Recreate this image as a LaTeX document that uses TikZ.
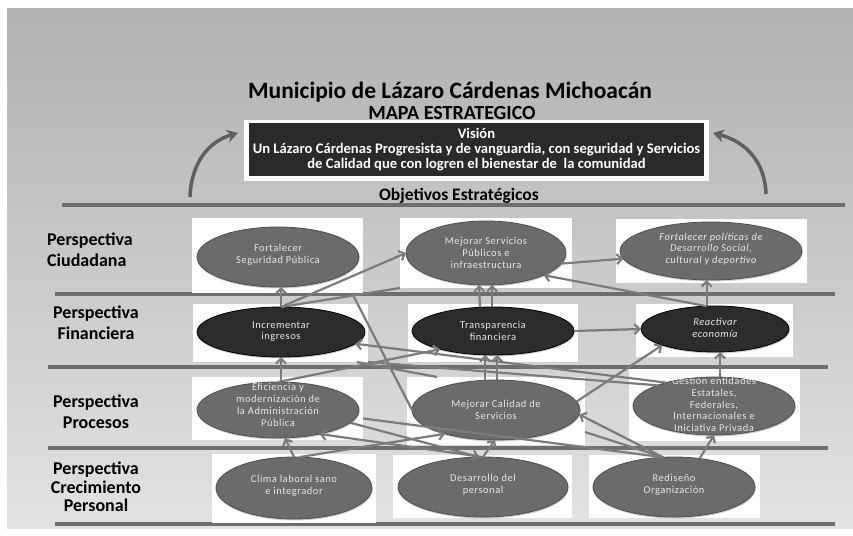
\documentclass[tikz,border=0pt]{standalone}
\usepackage{fontspec}
\setmainfont{Carlito}
\newfontfamily\ellfont[LetterSpace=5]{Carlito}
\usetikzlibrary{arrows.meta,calc,shadows,shapes.geometric}
\definecolor{bgtop}{HTML}{B1B1B1}
\definecolor{bgbot}{HTML}{E2E2E2}
\definecolor{sepcol}{HTML}{6E6E6E}
\definecolor{conncol}{HTML}{7B7B7B}
\definecolor{curvcol}{HTML}{606060}
\definecolor{objgray}{HTML}{6B6B6B}
\definecolor{objrim}{HTML}{4E4E4E}
\definecolor{objdark}{HTML}{2C2C2C}
\definecolor{objtext}{HTML}{E6E6E6}
\definecolor{visfill}{HTML}{2A2A2A}
\begin{document}
\begin{tikzpicture}[x=1pt,y=-1pt,
  wbox/.style={fill=white,draw=none,inner sep=0pt,outer sep=0pt},
  obj/.style={ellipse,fill=objgray,draw=objrim,line width=0.8pt,inner sep=0pt,outer sep=0pt,
    drop shadow={opacity=0.35,shadow xshift=0.5pt,shadow yshift=-1.5pt}},
  objd/.style={obj,fill=objdark,draw=black},
  objtxt/.style={inner sep=0pt,text=objtext,align=center,font=\ellfont\fontsize{10.5}{11.8}\selectfont},
  conn/.style={draw=conncol,line width=2.2pt,-{Straight Barb[length=5pt,width=10pt]}},
  plainline/.style={draw=conncol,line width=2.2pt},
  sepline/.style={draw=sepcol,line width=3.5pt},
  curv/.style={draw=curvcol,line width=3.5pt,-{Stealth[length=11pt,width=13pt]}},
  persp/.style={align=center,font=\bfseries\fontsize{18}{21}\selectfont,inner sep=0pt}
]
\useasboundingbox (0,0) rectangle (853,535);
\fill[white] (0,0) rectangle (853,535);
\shade[top color=bgtop,bottom color=bgbot] (7,9) rectangle (853,528);

% titles
\node[font=\bfseries\fontsize{23.5}{28}\selectfont] (title) at (450,92) {Municipio de Lázaro Cárdenas Michoacán};
\node[font=\bfseries\fontsize{20}{24}\selectfont] (mapa) at (452,113) {MAPA ESTRATEGICO};

% vision
\node[wbox,minimum width=465,minimum height=61] (vframe) at (476.5,150) {};
\node[fill=visfill,draw=none,minimum width=455,minimum height=53,inner sep=0pt,text=white,align=center,
  font=\bfseries\fontsize{14.6}{15}\selectfont] (vision) at (476.5,149.5)
  {Visión\\Un Lázaro Cárdenas Progresista y de vanguardia, con seguridad y Servicios\\de Calidad que con logren el bienestar de \ la comunidad};

\coordinate (la0) at (190,197);
\coordinate (la1) at (238,133);
\coordinate (ra0) at (766,194);
\coordinate (ra1) at (713,133);
\draw[curv] (la0) .. controls (191,165) and (207,142) .. (la1);
\draw[curv] (ra0) .. controls (765,163) and (747,142) .. (ra1);

\node[font=\bfseries\fontsize{17.5}{20}\selectfont] (objt) at (459,196) {Objetivos Estratégicos};

% separators
\draw[sepline] (62,205) -- (845,205);
\draw[sepline] (55,294) -- (835,294);
\draw[sepline] (48,367) -- (828,367);
\draw[sepline] (48,448) -- (828,448);
\draw[sepline] (55,524) -- (835,524);

% perspective labels
\node[persp,align=left] (p1) at (90,250) {Perspectiva\\Ciudadana};
\node[persp] (p2) at (96,323) {Perspectiva\\Financiera};
\node[persp] (p3) at (96,412) {Perspectiva\\Procesos};
\node[persp,font=\bfseries\fontsize{18}{18.5}\selectfont] (p4) at (96,487) {Perspectiva\\Crecimiento\\Personal};

% white boxes
\node[wbox,minimum width=171,minimum height=75] (r1) at (277.5,255.5) {};
\node[wbox,minimum width=172,minimum height=70] (r2) at (486,253) {};
\node[wbox,minimum width=191,minimum height=64] (r3) at (711.5,251) {};
\node[wbox,minimum width=175,minimum height=58] (r4) at (280.5,333) {};
\node[wbox,minimum width=170,minimum height=58] (r5) at (493,333) {};
\node[wbox,minimum width=157,minimum height=53] (r6) at (714.5,330.5) {};
\node[wbox,minimum width=171,minimum height=63] (r7) at (277.5,408.5) {};
\node[wbox,minimum width=178,minimum height=68] (r8) at (496,411) {};
\node[wbox,minimum width=171,minimum height=72] (r9) at (714.5,405) {};
\node[wbox,minimum width=164,minimum height=69] (r10) at (294,488.5) {};
\node[wbox,minimum width=179,minimum height=63] (r11) at (482.5,486.5) {};
\node[wbox,minimum width=171,minimum height=63] (r12) at (674.5,486.5) {};

% ellipses (shapes only)
\node[obj,minimum width=162,minimum height=60] (e1) at (278,257) {};
\node[obj,minimum width=160,minimum height=64] (e2) at (486,253) {};
\node[obj,minimum width=182,minimum height=58] (e3) at (711,251) {};
\node[objd,minimum width=168,minimum height=50] (e4) at (281,332) {};
\node[objd,minimum width=162,minimum height=48] (e5) at (493,331) {};
\node[objd,minimum width=148,minimum height=46] (e6) at (715,329) {};
\node[obj,minimum width=162,minimum height=56] (e7) at (278,410) {};
\node[obj,minimum width=168,minimum height=60] (e8) at (496,410) {};
\node[obj,minimum width=162,minimum height=58] (e9) at (714,406) {};
\node[obj,minimum width=156,minimum height=62] (e10) at (294,488) {};
\node[obj,minimum width=170,minimum height=60] (e11) at (483,487) {};
\node[obj,minimum width=162,minimum height=60] (e12) at (674,487) {};

% connectors
\draw[conn] (e4.north) -- (e4.north |- e1.south);
\draw[conn] (e4.north) -- (e2.west);
\draw[plainline] (e4.north) -- (r2.south west);
\draw[conn] (e6.110) -- (e6.110 |- e3.south);
\draw[conn] (e6.110) -- (e2.-21);
\draw[conn] (e2.-8) -- (e3.185);
\draw[conn] ([xshift=-13pt]e5.north) -- ([xshift=-7pt]e2.south);
\draw[conn] ([xshift=-1pt]e5.north) -- ([xshift=6pt]e2.south);
\draw[conn] (e5.east) -- (e6.west);
\draw[conn] ([xshift=3pt]e7.north) -- (e4.south);
\draw[conn] (e7.north) -- (e5.199);
\draw[conn] ([xshift=-11pt]e8.north) -- ([xshift=-8pt]e5.south);
\draw[conn] ([xshift=1pt]e8.north) -- ([xshift=4pt]e5.south);
\draw[conn] (e8.6) -- (e6.197);
\draw[conn] ([xshift=6pt]e9.north) -- ([xshift=5pt]e6.south);
\draw[conn] (e9.154) -- (e4.-9);
\draw[plainline] (r4.south east) -- (e9.160);
\draw[plainline] ([xshift=-11pt]r1.south east) -- (e8.west);
\draw[plainline] ([xshift=-11pt]r4.south east) -- ([xshift=30pt]r8.north west);
\draw[conn] (e10.north) -- ([xshift=7pt]e7.south);
\draw[conn] ([xshift=6pt]e10.north) -- (e8.205);
\draw[conn] (e11.north) -- ([xshift=-1pt]e8.south);
\draw[conn] (e11.north) -- (e7.-30);
\draw[conn] (e7.-10) -- ([xshift=-4pt]e11.north);
\draw[plainline] ([yshift=-10pt]r7.east) -- (e12.110);
\draw[conn] (e12.110) -- (e8.-3);
\draw[plainline] ([yshift=-21pt]r8.east) -- (e12.110);
\draw[conn] (e12.48) -- (e9.south);

% ellipse texts
\node[objtxt] (t1) at (278,255) {Fortalecer\\Seguridad Pública};
\node[objtxt] (t2) at (486,253) {Mejorar Servicios\\Públicos e\\infraestructura};
\node[objtxt,font=\ellfont\itshape\fontsize{10.5}{11.8}\selectfont] (t3) at (711,249) {Fortalecer políticas de\\Desarrollo Social,\\cultural y deportivo};
\node[objtxt] (t4) at (281,331.5) {Incrementar\\ingresos};
\node[objtxt] (t5) at (493,331) {Transparencia\\financiera};
\node[objtxt,font=\ellfont\itshape\fontsize{10.5}{11.8}\selectfont] (t6) at (715,328) {Reactivar\\economía};
\node[objtxt] (t7) at (278,405) {Eficiencia y\\modernización de\\la Administración\\Pública};
\node[objtxt] (t8) at (496,410) {Mejorar Calidad de\\Servicios};
\node[objtxt] (t9) at (714,404.5) {Gestión entidades\\Estatales,\\Federales,\\Internacionales e\\Iniciativa Privada};
\node[objtxt] (t10) at (294,486) {Clima laboral sano\\e integrador};
\node[objtxt] (t11) at (483,485) {Desarrollo del\\personal};
\node[objtxt] (t12) at (674,485) {Rediseño\\Organización};
\end{tikzpicture}
\end{document}
